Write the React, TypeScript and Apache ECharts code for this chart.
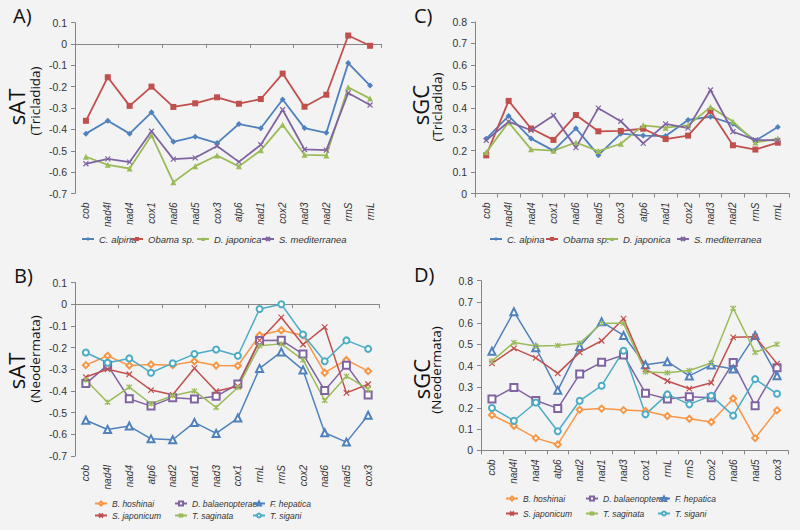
import React, { useEffect, useRef } from "react";
import * as echarts from "echarts";

// Categories
const catsTricladida = ["cob", "nad4l", "nad4", "cox1", "nad6", "nad5", "cox3", "atp6", "nad1", "cox2", "nad3", "nad2", "rrnS", "rrnL"];
const catsNeodermata = ["cob", "nad4l", "nad4", "atp6", "nad2", "nad1", "nad3", "cox1", "rrnL", "rrnS", "cox2", "nad6", "nad5", "cox3"];

// Panel A: sAT (Tricladida)
const sAT_Calpina = [-0.42, -0.36, -0.42, -0.32, -0.458, -0.434, -0.464, -0.375, -0.395, -0.26, -0.394, -0.416, -0.09, -0.195];
const sAT_Obama = [-0.36, -0.156, -0.29, -0.2, -0.295, -0.278, -0.25, -0.28, -0.258, -0.139, -0.294, -0.238, 0.039, -0.009];
const sAT_Djaponica = [-0.528, -0.566, -0.583, -0.427, -0.647, -0.572, -0.522, -0.573, -0.498, -0.378, -0.519, -0.522, -0.203, -0.256];
const sAT_Smed = [-0.561, -0.538, -0.553, -0.409, -0.539, -0.533, -0.478, -0.552, -0.472, -0.308, -0.494, -0.497, -0.23, -0.286];

// Panel C: sGC (Tricladida)
const sGC_Calpina = [0.255, 0.362, 0.256, 0.2, 0.304, 0.179, 0.279, 0.27, 0.268, 0.343, 0.358, 0.325, 0.246, 0.31];
const sGC_Obama = [0.178, 0.432, 0.303, 0.25, 0.366, 0.29, 0.292, 0.302, 0.254, 0.27, 0.385, 0.225, 0.205, 0.237];
const sGC_Djaponica = [0.192, 0.332, 0.206, 0.2, 0.238, 0.198, 0.232, 0.318, 0.307, 0.318, 0.403, 0.336, 0.238, 0.256];
const sGC_Smed = [0.248, 0.335, 0.295, 0.364, 0.214, 0.398, 0.337, 0.234, 0.325, 0.305, 0.483, 0.288, 0.25, 0.248];

// Panel B: sAT (Neodermata)
const sATn_Bhoshinai = [-0.281, -0.238, -0.283, -0.278, -0.281, -0.263, -0.283, -0.284, -0.143, -0.12, -0.144, -0.316, -0.257, -0.309];
const sATn_Dbalaen = [-0.366, -0.281, -0.436, -0.47, -0.431, -0.437, -0.425, -0.368, -0.168, -0.166, -0.23, -0.398, -0.281, -0.419];
const sATn_Fhepatica = [-0.535, -0.578, -0.562, -0.621, -0.625, -0.545, -0.596, -0.525, -0.296, -0.22, -0.303, -0.593, -0.636, -0.512];
const sATn_Sjaponicum = [-0.336, -0.3, -0.323, -0.396, -0.418, -0.295, -0.401, -0.378, -0.167, -0.061, -0.186, -0.106, -0.409, -0.369];
const sATn_Tsaginata = [-0.35, -0.452, -0.382, -0.459, -0.422, -0.4, -0.476, -0.384, -0.192, -0.183, -0.257, -0.444, -0.332, -0.392];
const sATn_Tsigani = [-0.223, -0.27, -0.25, -0.316, -0.272, -0.23, -0.209, -0.238, -0.022, 0.0, -0.14, -0.263, -0.167, -0.206];

// Panel D: sGC (Neodermata)
const sGCn_Bhoshinai = [0.167, 0.116, 0.058, 0.028, 0.192, 0.197, 0.19, 0.186, 0.162, 0.149, 0.134, 0.245, 0.058, 0.189];
const sGCn_Dbalaen = [0.242, 0.297, 0.235, 0.198, 0.36, 0.415, 0.45, 0.27, 0.242, 0.253, 0.248, 0.414, 0.211, 0.39];
const sGCn_Fhepatica = [0.467, 0.654, 0.484, 0.283, 0.49, 0.607, 0.542, 0.404, 0.418, 0.351, 0.403, 0.384, 0.542, 0.352];
const sGCn_Sjaponicum = [0.41, 0.481, 0.436, 0.363, 0.462, 0.517, 0.621, 0.382, 0.327, 0.291, 0.319, 0.533, 0.536, 0.409];
const sGCn_Tsaginata = [0.421, 0.509, 0.492, 0.494, 0.505, 0.599, 0.599, 0.37, 0.366, 0.377, 0.412, 0.67, 0.462, 0.5];
const sGCn_Tsigani = [0.2, 0.14, 0.226, 0.09, 0.234, 0.305, 0.47, 0.17, 0.264, 0.217, 0.258, 0.164, 0.336, 0.267];

const BLUE = "#4F81BD";
const RED = "#C0504D";
const GREEN = "#9BBB59";
const PURPLE = "#8064A2";
const AQUA = "#4BACC6";
const ORANGE = "#F79646";

const X_PATH = "path://M0,0L10,10M10,0L0,10";
const STAR_PATH = "path://M0,0L10,10M10,0L0,10M5,-1L5,11";

const FONT = "'Liberation Sans', Arial, sans-serif";
const TITLE_FONT = "'Open Sans', 'Noto Sans', sans-serif";

const fmt = (v: number) => String(Math.round(v * 10) / 10);

export default function App() {
  const ref = useRef<HTMLDivElement>(null);
  useEffect(() => {
    if (!ref.current) return;
    const chart = echarts.init(ref.current, undefined, { renderer: "svg" });

    const grids = [
      { left: 75, top: 22.5, width: 306, height: 171 }, // A
      { left: 475, top: 22, width: 314, height: 171.5 }, // C
      { left: 75, top: 282.5, width: 304, height: 173.5 }, // B
      { left: 481, top: 280.7, width: 307, height: 169.7 }, // D
    ];

    const axisLineStyle = { color: "#868686", width: 1 };
    const catLabel = { fontSize: 10, color: "#333", fontStyle: "italic", fontFamily: FONT, rotate: 90, margin: 9 };

    const xAxis: any[] = [
      { type: "category", gridIndex: 0, data: catsTricladida, position: "bottom", axisLine: { onZero: true, lineStyle: axisLineStyle }, axisTick: { show: true, length: 4, lineStyle: axisLineStyle }, axisLabel: { show: false } },
      { type: "category", gridIndex: 0, data: catsTricladida, position: "bottom", axisLine: { show: false, onZero: false }, axisTick: { show: false }, axisLabel: catLabel },
      { type: "category", gridIndex: 1, data: catsTricladida, position: "bottom", axisLine: { lineStyle: axisLineStyle }, axisTick: { show: true, length: 4, lineStyle: axisLineStyle }, axisLabel: catLabel },
      { type: "category", gridIndex: 2, data: catsNeodermata, position: "bottom", axisLine: { onZero: true, lineStyle: axisLineStyle }, axisTick: { show: true, length: 4, lineStyle: axisLineStyle }, axisLabel: { show: false } },
      { type: "category", gridIndex: 2, data: catsNeodermata, position: "bottom", axisLine: { show: false, onZero: false }, axisTick: { show: false }, axisLabel: catLabel },
      { type: "category", gridIndex: 3, data: catsNeodermata, position: "bottom", axisLine: { lineStyle: axisLineStyle }, axisTick: { show: true, length: 4, lineStyle: axisLineStyle }, axisLabel: catLabel },
    ];

    const valLabel = { fontSize: 10.5, color: "#333", fontFamily: FONT, margin: 8, formatter: fmt };
    const yBase = {
      type: "value",
      interval: 0.1,
      splitLine: { show: false },
      axisLine: { show: true, lineStyle: axisLineStyle },
      axisTick: { show: true, length: 4, lineStyle: axisLineStyle },
      axisLabel: valLabel,
    };
    const yAxis: any[] = [
      { ...yBase, gridIndex: 0, min: -0.7, max: 0.1 },
      { ...yBase, gridIndex: 1, min: 0, max: 0.8 },
      { ...yBase, gridIndex: 2, min: -0.7, max: 0.1 },
      { ...yBase, gridIndex: 3, min: 0, max: 0.8 },
    ];

    const mk = (name: string, data: number[], color: string, symbol: string, size: number, xi: number, yi: number, lw: number, empty = false) => ({
      type: "line",
      name,
      data,
      xAxisIndex: xi,
      yAxisIndex: yi,
      symbol,
      symbolSize: size,
      showAllSymbol: true,
      lineStyle: { color, width: lw },
      itemStyle: empty
        ? { color, borderColor: color, borderWidth: 1.1 }
        : { color, borderColor: color, borderWidth: symbol.startsWith("path") ? 1.2 : 0 },
      emphasis: { disabled: true },
      z: 3,
    });

    const series: any[] = [
      mk("C. alpina", sAT_Calpina, BLUE, "diamond", 6, 0, 0, 1.8),
      mk("Obama sp.", sAT_Obama, RED, "rect", 6, 0, 0, 1.8),
      mk("D. japonica", sAT_Djaponica, GREEN, "triangle", 6, 0, 0, 1.8),
      mk("S. mediterranea", sAT_Smed, PURPLE, X_PATH, 5, 0, 0, 1.8),

      mk("C. alpina", sGC_Calpina, BLUE, "diamond", 6, 2, 1, 1.8),
      mk("Obama sp.", sGC_Obama, RED, "rect", 6, 2, 1, 1.8),
      mk("D. japonica", sGC_Djaponica, GREEN, "triangle", 6, 2, 1, 1.8),
      mk("S. mediterranea", sGC_Smed, PURPLE, X_PATH, 5, 2, 1, 1.8),

      mk("B. hoshinai", sATn_Bhoshinai, ORANGE, "emptyDiamond", 6, 3, 2, 1.5, true),
      mk("D. balaenopterae", sATn_Dbalaen, PURPLE, "emptyRect", 7, 3, 2, 1.5, true),
      mk("F. hepatica", sATn_Fhepatica, BLUE, "emptyTriangle", 7, 3, 2, 1.5, true),
      mk("S. japonicum", sATn_Sjaponicum, RED, X_PATH, 5.5, 3, 2, 1.5),
      mk("T. saginata", sATn_Tsaginata, GREEN, STAR_PATH, 5.5, 3, 2, 1.5),
      mk("T. sigani", sATn_Tsigani, AQUA, "emptyCircle", 6, 3, 2, 1.5, true),

      mk("B. hoshinai", sGCn_Bhoshinai, ORANGE, "emptyDiamond", 6, 5, 3, 1.5, true),
      mk("D. balaenopterae", sGCn_Dbalaen, PURPLE, "emptyRect", 7, 5, 3, 1.5, true),
      mk("F. hepatica", sGCn_Fhepatica, BLUE, "emptyTriangle", 7, 5, 3, 1.5, true),
      mk("S. japonicum", sGCn_Sjaponicum, RED, X_PATH, 5.5, 5, 3, 1.5),
      mk("T. saginata", sGCn_Tsaginata, GREEN, STAR_PATH, 5.5, 5, 3, 1.5),
      mk("T. sigani", sGCn_Tsigani, AQUA, "emptyCircle", 6, 5, 3, 1.5, true),
    ];

    const legItem = (name: string, left: number, cy: number, fs: number) => ({
      data: [name],
      left,
      top: cy - 5,
      padding: 0,
      itemWidth: 12,
      itemHeight: 5,
      selectedMode: false,
      textStyle: { fontSize: fs, fontStyle: "italic", color: "#333", fontFamily: FONT },
    });

    const legend: any[] = [
      legItem("C. alpina", 81, 239, 9.5),
      legItem("Obama sp.", 130, 239, 9.5),
      legItem("D. japonica", 196, 239, 9.5),
      legItem("S. mediterranea", 261, 239, 9.5),

      legItem("C. alpina", 489, 239, 9.5),
      legItem("Obama sp.", 545, 239, 9.5),
      legItem("D. japonica", 605, 239, 9.5),
      legItem("S. mediterranea", 676, 239, 9.5),

      legItem("B. hoshinai", 94, 504, 8.5),
      legItem("D. balaenopterae", 174, 504, 8.5),
      legItem("F. hepatica", 252, 504, 8.5),
      legItem("S. japonicum", 94, 516, 8.5),
      legItem("T. saginata", 174, 516, 8.5),
      legItem("T. sigani", 252, 516, 8.5),

      legItem("B. hoshinai", 505, 499, 8.5),
      legItem("D. balaenopterae", 585, 499, 8.5),
      legItem("F. hepatica", 657, 499, 8.5),
      legItem("S. japonicum", 505, 514, 8.5),
      legItem("T. saginata", 585, 514, 8.5),
      legItem("T. sigani", 657, 514, 8.5),
    ];

    const letter = (t: string, x: number, y: number) => ({
      type: "text",
      x,
      y,
      style: { text: t, fontSize: 20, fontFamily: TITLE_FONT, fill: "#111", textAlign: "left", textVerticalAlign: "top" },
    });
    const vText = (t: string, x: number, y: number, size: number) => ({
      type: "text",
      x,
      y,
      rotation: Math.PI / 2,
      style: { text: t, fontSize: size, fontFamily: TITLE_FONT, fill: "#111", textAlign: "center", textVerticalAlign: "middle" },
    });

    const graphic: any[] = [
      letter("A)", 13, 5),
      letter("C)", 414, 5),
      letter("B)", 14, 265),
      letter("D)", 414, 264),
      vText("sAT", 16, 107, 22),
      vText("(Tricladida)", 35, 101, 13.5),
      vText("sGC", 420, 105, 22),
      vText("(Tricladida)", 437, 107, 13.5),
      vText("sAT", 16, 371, 22),
      vText("(Neodermata)", 35, 359, 13.5),
      vText("sGC", 421, 379, 22),
      vText("(Neodermata)", 436, 370, 13.5),
    ];

    chart.setOption({
      animation: false,
      backgroundColor: "#f3f3f3",
      grid: grids,
      xAxis,
      yAxis,
      series,
      legend,
      graphic,
    });
    return () => chart.dispose();
  }, []);
  return <div ref={ref} style={{ position: "fixed", left: 0, top: 0, width: 800, height: 530 }} />;
}
